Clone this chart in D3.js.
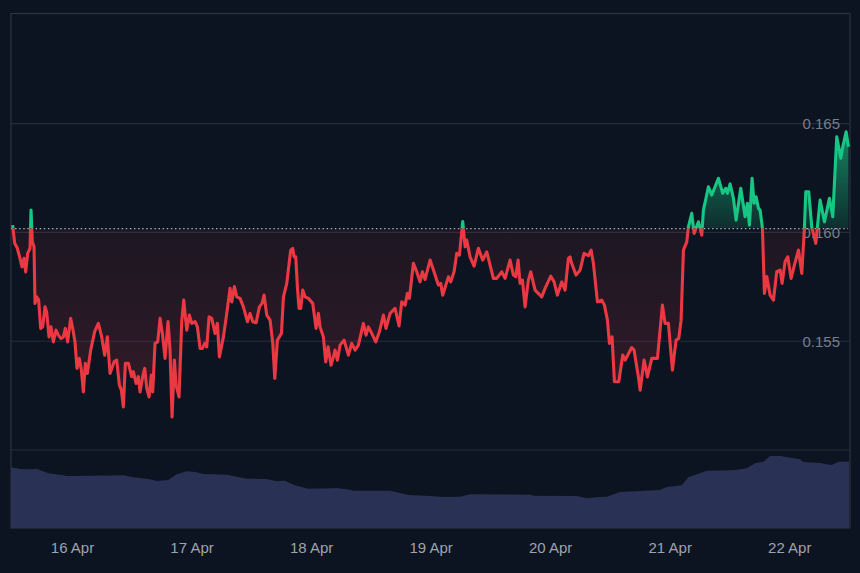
<!DOCTYPE html>
<html>
<head>
<meta charset="utf-8">
<script src="https://cdn.jsdelivr.net/npm/d3@7"></script>
<style>
html, body { margin: 0; padding: 0; background: #0d1421; }
svg { display: block; }
text { font-family: "Liberation Sans", Arial, sans-serif; }
</style>
</head>
<body>
<svg width="860" height="573"></svg>
<script>
// hours since 16 Apr 00:00
var priceHours = [-11.92,-11.51,-10.98,-10.44,-10.04,-9.64,-9.3,-8.9,-8.43,-8.23,-7.97,-7.63,-7.43,-7.1,-6.7,-6.29,-5.89,-5.42,-5.09,-4.62,-4.22,-3.75,-3.21,-2.74,-2.21,-1.74,-1.34,-0.87,-0.27,0.14,0.6,1,1.47,1.88,2.28,2.68,3.08,3.75,4.55,5.29,5.96,6.56,7.1,7.63,8.44,8.97,9.51,9.91,10.31,10.71,11.32,11.98,12.32,12.86,13.32,13.66,14.19,14.6,15,15.47,15.93,16.2,16.67,17.21,17.68,18.14,18.68,19.28,19.68,20.09,20.55,20.89,21.49,22.03,22.43,23.03,23.57,24.04,24.71,25.17,25.71,26.18,26.65,27.05,27.52,28.05,28.72,29.19,29.59,30.4,31.07,31.73,32.07,32.61,33.07,33.74,34.41,35.22,35.75,36.29,36.96,37.63,38.16,38.56,39.1,39.77,40.31,40.71,41.24,42.05,42.45,43.12,43.59,
43.91,44.31,44.58,44.92,45.25,45.58,45.92,46.32,46.79,47.46,48.33,49,49.47,49.8,50.47,50.94,51.41,52.01,52.48,52.81,53.28,53.82,54.62,55.49,56.16,56.83,57.5,58.5,59.04,59.51,60.18,60.98,61.72,62.52,63.05,63.86,64.86,65.66,66.2,66.87,67.34,67.74,68.54,69.08,69.88,70.35,70.88,71.89,72.56,73.56,74.03,74.43,75.57,76.04,76.71,77.24,77.78,78.45,78.92,79.25,79.92,80.72,81.59,82.46,83.27,84.6,85.27,86.28,86.95,87.95,88.62,89.09,89.56,89.96,90.43,90.96,91.63,92.1,92.97,94.31,94.98,96.12,96.79,97.45,98.33,99,99.66,
100,100.33,101.2,102.01,102.81,103.68,104.22,104.69,105.49,106.36,106.89,107.5,107.9,108.43,108.9,109.77,110.57,111.04,112.38,112.85,113.72,114.06,114.86,115.53,116.4,117.54,118.54,119.07,119.74,120.55,121.28,121.82,122.29,122.76,123.43,123.76,124.43,124.9,125.77,126.44,126.77,127.78,128.45,129.78,130.65,131.26,131.59,132.13,132.8,133.33,134.27,135.14,135.61,136.01,136.54,136.95,137.35,137.82,138.15,138.62,139.02,139.49,140.16,140.83,141.5,142.17,142.57,143.17,143.71,144.37,145.04,145.85,146.52,147.05,147.32,147.92,148.52,149.33,150.2,151.07,152.07,152.74,153.54,154.35,154.75,155.42,155.89];

var prices = [0.16034,0.1595,0.15927,0.15881,0.15842,0.15881,0.15819,0.15904,0.15927,0.16103,0.15957,0.15935,0.15674,0.15704,0.15689,0.15559,0.15566,0.15658,0.15635,0.1552,0.15566,0.15497,0.15551,0.15528,0.15512,0.1552,0.15559,0.15497,0.15605,0.15559,0.15497,0.15375,0.15421,0.15367,0.15267,0.15398,0.15352,0.15459,0.15544,0.15582,0.1552,0.15436,0.1552,0.15352,0.15405,0.15413,0.15298,0.15275,0.15198,0.15398,0.15398,0.15337,0.1536,0.15306,0.15337,0.15267,0.15337,0.15375,0.15283,0.15244,0.15344,0.15267,0.1549,0.15497,0.15605,0.15536,0.15421,0.1559,0.15459,0.15152,0.15413,0.15298,0.15244,0.1559,0.15689,0.15551,0.1562,0.15582,0.1559,0.15566,0.15467,0.15467,0.1549,0.15474,0.15612,0.15605,0.15536,0.15582,0.15428,0.1552,0.15628,0.15743,0.15681,0.15751,0.15704,0.15697,0.15658,0.1559,0.15628,0.1559,0.15585,0.15658,0.15674,0.15712,0.1562,0.15597,0.1549,0.15329,0.15505,0.15536,0.15704,0.15766,0.15858,
0.15919,0.15927,0.15888,0.15888,0.1575,0.15651,0.15651,0.15735,0.15704,0.15697,0.15674,0.15559,0.15628,0.15566,0.1552,0.15405,0.15474,0.1539,0.15428,0.15459,0.15413,0.15482,0.15505,0.15436,0.1549,0.15459,0.15482,0.15582,0.15528,0.15566,0.15536,0.15497,0.15544,0.1562,0.15559,0.15628,0.15651,0.1557,0.15681,0.15666,0.1572,0.15697,0.15858,0.15827,0.15773,0.15819,0.15784,0.15873,0.15827,0.15758,0.15766,0.15712,0.15796,0.15773,0.15819,0.15904,0.15896,0.1605,0.15934,0.15965,0.15888,0.15845,0.15927,0.15873,0.15911,0.15789,0.15789,0.15819,0.15789,0.15873,0.15804,0.15796,0.15873,0.15766,0.15781,0.15658,0.15781,0.15819,0.15735,0.15704,0.15743,0.15799,0.15773,0.15712,0.15773,0.15735,0.15881,
0.15888,0.15857,0.15804,0.15827,0.15904,0.15893,0.15919,0.15857,0.15681,0.15689,0.15666,0.15597,0.1549,0.1552,0.15314,0.15314,0.15436,0.15413,0.15471,0.15459,0.15336,0.15275,0.15413,0.15336,0.15421,0.15421,0.15666,0.15582,0.15582,0.15367,0.15505,0.15513,0.15597,0.15919,0.15957,0.16026,0.16088,0.15996,0.16049,0.15988,0.16103,0.1621,0.16172,0.16249,0.1618,0.16203,0.1618,0.16223,0.16157,0.16057,0.16203,0.16072,0.16134,0.16034,0.16249,0.16134,0.16164,0.16111,0.16103,0.16019,0.1572,0.15797,0.15712,0.15689,0.1582,0.15827,0.15766,0.15866,0.15888,0.15789,0.1585,0.15919,0.15812,0.16019,0.16187,0.16187,0.16026,0.1595,0.16149,0.16049,0.16157,0.16072,0.1644,0.16341,0.16394,0.16463,0.16394];

var volumeHours = [-12.25,-10.44,-7.77,-7.1,-4.76,-2.41,-1.07,0.6,10.3,12.31,15.66,16.98,19.34,21.01,23.02,24.69,26.37,31.05,35.07,39.08,41.09,42.76,44.77,47.45,52.47,53.14,55.82,56.49,63.85,67.53,71.88,74.57,77.91,79.92,91.97,92.64,101.34,103.35,105.35,107.36,110.04,118.07,119.41,122.42,123.76,127.44,132.8,134.13,135.47,137.15,138.82,140.16,142.17,146.18,146.85,150.2,152.54,153.88,156];
var volumes = [607,590,587,593,547,533,520,520,527,507,487,470,480,537,567,560,540,533,493,490,467,473,427,393,397,400,383,373,373,330,320,310,313,337,333,323,320,297,307,313,360,380,410,427,507,573,577,587,597,647,663,720,720,687,660,650,630,663,663];

var baseValue = 0.16018;
var gridValues = [0.15, 0.155, 0.16, 0.165];
var priceTicks = [0.155, 0.16, 0.165];
var dayTicks = [0, 24, 48, 72, 96, 120, 144];
var dayLabels = ["16 Apr", "17 Apr", "18 Apr", "19 Apr", "20 Apr", "21 Apr", "22 Apr"];

var svg = d3.select("svg");
var plot = { left: 11, right: 850, top: 13.5, bottom: 528 };

var x = d3.scaleLinear().domain([-12.25, 156]).range([11, 849]);
var y = d3.scaleLinear().domain([0.15, 0.165]).range([450, 123.7]);
var yVol = d3.scaleLinear().domain([0, 1000]).range([plot.bottom, plot.bottom - 100]);

var points = prices.map(function (p, i) { return { h: priceHours[i], p: p }; });
var volPoints = volumes.map(function (v, i) { return { h: volumeHours[i], v: v }; });
var baseY = y(baseValue);

// clip + gradients, green above the base value, red below
var defs = svg.append("defs");
defs.append("clipPath").attr("id", "above").append("rect")
    .attr("x", 0).attr("y", 0).attr("width", 860).attr("height", baseY);
defs.append("clipPath").attr("id", "below").append("rect")
    .attr("x", 0).attr("y", baseY).attr("width", 860).attr("height", 573 - baseY);

var green = defs.append("linearGradient").attr("id", "greenFill")
    .attr("gradientUnits", "userSpaceOnUse")
    .attr("x1", 0).attr("x2", 0).attr("y1", y(0.1645)).attr("y2", baseY);
green.append("stop").attr("offset", 0).attr("stop-color", "#16c784").attr("stop-opacity", 0.62);
green.append("stop").attr("offset", 1).attr("stop-color", "#16c784").attr("stop-opacity", 0.14);

var red = defs.append("linearGradient").attr("id", "redFill")
    .attr("gradientUnits", "userSpaceOnUse")
    .attr("x1", 0).attr("x2", 0).attr("y1", baseY).attr("y2", y(0.152));
red.append("stop").attr("offset", 0).attr("stop-color", "#ea3943").attr("stop-opacity", 0.07);
red.append("stop").attr("offset", 1).attr("stop-color", "#ea3943").attr("stop-opacity", 0.17);

// frame
svg.append("rect")
    .attr("x", plot.left).attr("y", plot.top)
    .attr("width", plot.right - plot.left).attr("height", plot.bottom - plot.top)
    .attr("fill", "none").attr("stroke", "#2b3341").attr("stroke-width", 1.2);

// gridlines
svg.append("g").selectAll("line").data(gridValues).enter().append("line")
    .attr("x1", plot.left).attr("x2", plot.right)
    .attr("y1", function (d) { return y(d); })
    .attr("y2", function (d) { return y(d); })
    .attr("stroke", "#252d3a").attr("stroke-width", 1.2);

// price axis labels, sit under the line
var yAxis = d3.axisRight(y).tickValues(priceTicks).tickSize(0).tickPadding(0)
    .tickFormat(d3.format(".3f"));
var yg = svg.append("g").attr("transform", "translate(802.5,0)").call(yAxis);
yg.select(".domain").remove();
yg.selectAll("text").attr("fill", "#787e8b").style("font-size", "15px");

// volume
svg.append("path").datum(volPoints)
    .attr("fill", "#293254")
    .attr("d", d3.area()
        .x(function (d) { return x(d.h); })
        .y0(plot.bottom)
        .y1(function (d) { return yVol(d.v); }));

// area + line
var area = d3.area()
    .x(function (d) { return x(d.h); })
    .y0(baseY)
    .y1(function (d) { return y(d.p); });
var line = d3.line()
    .x(function (d) { return x(d.h); })
    .y(function (d) { return y(d.p); });

svg.append("path").datum(points).attr("clip-path", "url(#above)").attr("fill", "url(#greenFill)").attr("d", area);
svg.append("path").datum(points).attr("clip-path", "url(#below)").attr("fill", "url(#redFill)").attr("d", area);

// dotted base line
svg.append("line")
    .attr("x1", plot.left).attr("x2", 848)
    .attr("y1", baseY).attr("y2", baseY)
    .attr("stroke", "#aab0b8").attr("stroke-width", 1.3).attr("stroke-dasharray", "1.4 2.7");

svg.append("path").datum(points).attr("clip-path", "url(#above)")
    .attr("fill", "none").attr("stroke", "#16c784").attr("stroke-width", 3.1)
    .attr("stroke-linejoin", "round").attr("d", line);
svg.append("path").datum(points).attr("clip-path", "url(#below)")
    .attr("fill", "none").attr("stroke", "#ea3943").attr("stroke-width", 3.1)
    .attr("stroke-linejoin", "round").attr("d", line);

// date axis
var xAxis = d3.axisBottom(x).tickValues(dayTicks).tickSize(0).tickPadding(0)
    .tickFormat(function (d, i) { return dayLabels[i]; });
var xg = svg.append("g").attr("transform", "translate(0,542)").call(xAxis);
xg.select(".domain").remove();
xg.selectAll("text").attr("fill", "#9ea3ad").style("font-size", "15px");
</script>
</body>
</html>
